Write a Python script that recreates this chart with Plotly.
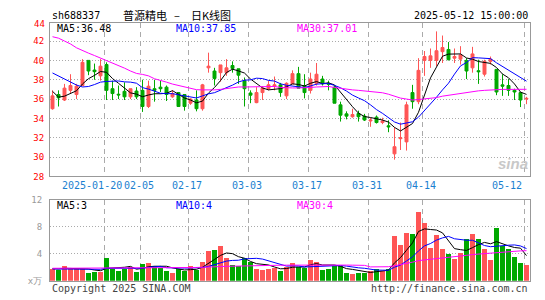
import plotly.graph_objects as go

# ---------------- data ----------------
dates = [
    "2025-01-07", "2025-01-08", "2025-01-09", "2025-01-10", "2025-01-13", "2025-01-14", "2025-01-15", "2025-01-16",
    "2025-01-17", "2025-01-20", "2025-01-21", "2025-01-22", "2025-01-23", "2025-01-24", "2025-01-27", "2025-02-05",
    "2025-02-06", "2025-02-07", "2025-02-10", "2025-02-11", "2025-02-12", "2025-02-13", "2025-02-14", "2025-02-17",
    "2025-02-18", "2025-02-19", "2025-02-20", "2025-02-21", "2025-02-24", "2025-02-25", "2025-02-26", "2025-02-27",
    "2025-02-28", "2025-03-03", "2025-03-04", "2025-03-05", "2025-03-06", "2025-03-07", "2025-03-10", "2025-03-11",
    "2025-03-12", "2025-03-13", "2025-03-14", "2025-03-17", "2025-03-18", "2025-03-19", "2025-03-20", "2025-03-21",
    "2025-03-24", "2025-03-25", "2025-03-26", "2025-03-27", "2025-03-28", "2025-03-31", "2025-04-01", "2025-04-02",
    "2025-04-03", "2025-04-07", "2025-04-08", "2025-04-09", "2025-04-10", "2025-04-11", "2025-04-14", "2025-04-15",
    "2025-04-16", "2025-04-17", "2025-04-18", "2025-04-21", "2025-04-22", "2025-04-23", "2025-04-24", "2025-04-25",
    "2025-04-28", "2025-04-29", "2025-04-30", "2025-05-06", "2025-05-07", "2025-05-08", "2025-05-09", "2025-05-12",
]

open_ = [35.00, 36.47, 35.90, 36.90, 36.47, 37.40, 40.00, 39.00, 38.40, 39.57,
         37.07, 36.50, 36.80, 36.23, 36.83, 36.90, 35.23, 37.07, 37.23, 37.23,
         36.23, 36.67, 36.47, 35.57, 35.90, 35.00, 39.23, 38.90, 38.73, 38.73,
         39.47, 39.13, 37.90, 36.63, 35.63, 36.67, 37.07, 37.33, 37.47, 36.33,
         37.57, 38.63, 37.40, 36.90, 37.63, 38.07, 37.63, 37.23, 35.40, 34.47,
         34.17, 34.50, 34.23, 33.73, 34.13, 33.57, 33.23, 30.33, 31.90, 31.57,
         36.67, 35.73, 40.00, 40.00, 40.00, 40.90, 41.13, 40.23, 40.13, 40.00,
         39.23, 38.93, 38.57, 39.90, 39.07, 37.47, 37.40, 36.90, 36.67, 36.00]
high = [36.90, 36.90, 37.57, 38.57, 37.57, 40.13, 40.00, 39.67, 40.13, 39.80,
        37.90, 37.40, 37.73, 37.07, 37.23, 38.00, 37.90, 38.00, 37.90, 37.40,
        36.90, 36.73, 36.47, 36.07, 36.90, 37.57, 40.80, 39.23, 39.53, 40.13,
        39.90, 39.13, 38.23, 36.90, 37.23, 37.33, 37.90, 38.33, 37.67, 37.73,
        38.97, 39.33, 38.57, 38.73, 39.73, 38.40, 37.90, 37.40, 35.73, 34.73,
        35.00, 34.80, 34.47, 34.07, 34.30, 34.07, 33.80, 33.07, 33.57, 35.73,
        37.47, 40.23, 40.97, 41.23, 43.00, 42.57, 41.90, 41.23, 41.47, 40.23,
        41.40, 40.07, 40.07, 40.40, 39.07, 38.57, 38.07, 37.07, 36.73, 36.23]
low = [34.90, 35.23, 35.80, 36.57, 36.00, 37.33, 38.47, 38.00, 37.90, 35.90,
       35.90, 36.00, 35.90, 36.00, 36.00, 34.67, 35.07, 35.73, 36.73, 35.80,
       36.13, 35.23, 34.80, 35.40, 34.73, 34.80, 38.73, 37.40, 37.80, 38.40,
       38.73, 37.57, 35.23, 35.57, 35.57, 35.90, 36.90, 36.90, 36.23, 36.00,
       37.57, 37.13, 36.07, 36.57, 37.40, 37.40, 36.90, 35.57, 33.67, 33.90,
       34.07, 33.67, 33.73, 33.13, 33.47, 33.40, 32.57, 29.73, 30.73, 30.67,
       35.00, 35.47, 38.40, 39.23, 39.40, 39.73, 40.00, 39.73, 39.57, 38.07,
       38.73, 37.57, 38.33, 39.57, 36.40, 36.33, 36.33, 35.90, 35.17, 35.47]
close = [36.33, 36.13, 37.13, 37.40, 37.33, 39.80, 38.90, 38.83, 39.40, 36.90,
         36.57, 36.43, 36.23, 37.07, 36.23, 35.23, 37.33, 36.90, 37.07, 36.47,
         36.57, 35.23, 35.23, 36.00, 35.00, 37.47, 39.40, 38.13, 39.53, 39.23,
         39.17, 38.47, 37.07, 36.40, 36.67, 37.13, 37.47, 37.47, 36.67, 37.63,
         38.63, 37.13, 36.67, 38.07, 38.57, 37.57, 37.53, 35.57, 34.33, 34.23,
         34.40, 34.17, 33.83, 33.83, 33.57, 33.73, 33.13, 31.07, 32.00, 35.40,
         35.73, 38.97, 40.40, 40.47, 41.00, 41.33, 40.07, 40.40, 40.57, 38.90,
         40.67, 38.83, 39.90, 40.13, 36.73, 37.33, 36.90, 36.73, 35.90, 36.07]

ma5 = [36.80, 36.20, 36.30, 36.60, 36.86, 37.56, 38.11, 38.45, 38.85, 38.77,
       38.12, 37.63, 37.11, 36.64, 36.51, 36.24, 36.42, 36.55, 36.55, 36.60,
       36.87, 36.45, 36.11, 35.90, 35.61, 35.79, 36.62, 37.20, 37.91, 38.75,
       39.09, 38.91, 38.69, 38.07, 37.56, 37.15, 36.95, 37.03, 37.08, 37.27,
       37.57, 37.51, 37.35, 37.63, 37.81, 37.60, 37.68, 37.46, 36.71, 35.85,
       35.21, 34.54, 34.19, 34.09, 33.96, 33.83, 33.62, 33.07, 32.70, 33.07,
       33.47, 34.63, 36.50, 38.19, 39.31, 40.43, 40.65, 40.65, 40.67, 40.25,
       40.12, 39.88, 39.78, 39.69, 39.26, 38.59, 38.20, 37.56, 36.72, 36.48]
ma10 = [38.70, 38.40, 38.10, 37.80, 37.45, 37.25, 37.30, 37.50, 37.75, 37.82,
        37.84, 37.87, 37.78, 37.75, 37.64, 37.18, 37.03, 36.83, 36.60, 36.56,
        36.56, 36.44, 36.33, 36.23, 36.11, 36.33, 36.54, 36.66, 36.91, 37.18,
        37.44, 37.77, 37.95, 37.99, 38.16, 38.12, 37.93, 37.86, 37.58, 37.42,
        37.36, 37.23, 37.19, 37.36, 37.54, 37.59, 37.60, 37.41, 37.17, 36.83,
        36.41, 36.11, 35.83, 35.40, 34.91, 34.52, 34.08, 33.63, 33.40, 33.52,
        33.65, 34.13, 34.79, 35.45, 36.19, 36.95, 37.64, 38.58, 39.43, 39.78,
        40.28, 40.26, 40.21, 40.18, 39.75, 39.36, 39.04, 38.67, 38.20, 37.85]
ma30 = [42.45, 42.30, 42.00, 41.70, 41.30, 41.00, 40.75, 40.50, 40.25, 40.00,
        39.75, 39.50, 39.20, 38.90, 38.65, 38.55, 38.40, 38.10, 37.95, 37.75,
        37.55, 37.40, 37.25, 37.10, 36.97, 36.95, 36.92, 36.95, 37.00, 37.10,
        37.20, 37.25, 37.25, 37.25, 37.25, 37.25, 37.30, 37.30, 37.20, 37.15,
        37.15, 37.15, 37.15, 37.20, 37.25, 37.30, 37.30, 37.20, 37.10, 37.00,
        36.95, 36.90, 36.85, 36.80, 36.70, 36.65, 36.50, 36.30, 36.10, 36.00,
        35.90, 35.95, 36.00, 36.05, 36.15, 36.30, 36.40, 36.50, 36.60, 36.70,
        36.80, 36.85, 36.90, 36.95, 36.95, 37.00, 37.00, 37.00, 37.00, 37.01]

volume = [1.86, 1.62, 2.19, 1.86, 1.76, 1.76, 1.19, 1.38, 1.38, 3.48,
          1.86, 1.52, 1.76, 2.05, 1.38, 2.48, 2.67, 2.19, 1.95, 1.48,
          1.24, 1.86, 1.48, 2.19, 1.71, 2.81, 4.43, 4.62, 5.19, 3.48,
          2.33, 2.19, 3.48, 2.81, 1.86, 1.71, 1.86, 1.95, 1.48, 2.05,
          2.67, 2.05, 1.95, 3.14, 2.90, 1.62, 1.81, 2.19, 2.19, 1.19,
          1.00, 1.24, 1.24, 1.48, 1.81, 1.48, 1.81, 6.67, 5.38, 7.19,
          6.95, 10.19, 8.62, 4.95, 6.81, 4.81, 3.95, 3.24, 4.19, 6.19,
          6.95, 6.19, 4.81, 3.19, 7.81, 5.19, 4.81, 3.62, 2.67, 2.33]
vol_ma5 = [1.80, 1.75, 1.85, 1.85, 1.86, 1.84, 1.75, 1.59, 1.49, 1.84,
           1.86, 1.92, 2.00, 2.13, 1.71, 1.84, 2.07, 2.15, 2.13, 2.15,
           1.91, 1.74, 1.60, 1.65, 1.70, 2.01, 2.52, 3.15, 3.75, 4.11,
           4.01, 3.56, 3.33, 2.86, 2.53, 2.41, 2.34, 2.04, 1.77, 1.81,
           2.00, 2.04, 2.04, 2.37, 2.54, 2.33, 2.28, 2.33, 2.14, 1.80,
           1.68, 1.56, 1.37, 1.23, 1.35, 1.45, 1.56, 2.65, 3.43, 4.51,
           5.60, 7.28, 7.67, 7.58, 7.50, 7.08, 5.83, 4.75, 4.60, 4.48,
           4.90, 5.35, 5.67, 5.47, 5.79, 5.44, 5.16, 4.92, 4.82, 3.72]
vol_ma10 = [1.75, 1.75, 1.80, 1.80, 1.80, 1.80, 1.75, 1.70, 1.70, 1.85,
            1.85, 1.84, 1.80, 1.81, 1.78, 1.85, 2.00, 2.08, 2.13, 1.93,
            1.88, 1.91, 1.88, 1.89, 1.93, 1.96, 2.13, 2.38, 2.70, 2.91,
            3.01, 3.04, 3.24, 3.31, 3.32, 3.21, 2.95, 2.69, 2.32, 2.17,
            2.21, 2.19, 2.04, 2.07, 2.18, 2.17, 2.16, 2.19, 2.26, 2.17,
            2.01, 1.92, 1.85, 1.69, 1.58, 1.57, 1.56, 2.01, 2.33, 2.93,
            3.53, 4.42, 5.16, 5.51, 6.01, 6.34, 6.56, 6.21, 6.09, 5.99,
            5.99, 5.59, 5.21, 5.04, 5.14, 5.17, 5.26, 5.30, 5.15, 4.76]
vol_ma30 = [1.85, 1.85, 1.85, 1.85, 1.86, 1.86, 1.86, 1.87, 1.87, 1.88,
            1.88, 1.89, 1.89, 1.90, 1.90, 1.91, 1.92, 1.93, 1.93, 1.94,
            1.94, 1.95, 1.95, 1.96, 1.97, 1.98, 2.02, 2.06, 2.10, 2.14,
            2.17, 2.20, 2.23, 2.25, 2.27, 2.28, 2.29, 2.30, 2.30, 2.31,
            2.32, 2.32, 2.33, 2.33, 2.33, 2.33, 2.33, 2.32, 2.32, 2.32,
            2.31, 2.30, 2.28, 2.05, 2.05, 2.06, 2.08, 2.22, 2.36, 2.55,
            2.75, 2.98, 3.12, 3.18, 3.28, 3.36, 3.42, 3.50, 3.62, 3.76,
            3.88, 3.96, 4.04, 4.10, 4.20, 4.28, 4.34, 4.40, 4.42, 4.45]

tick_dates = ["2025-01-20", "2025-02-05", "2025-02-17", "2025-03-03",
              "2025-03-17", "2025-03-31", "2025-04-14", "2025-05-12"]
tick_text = ["2025-01-20", "02-05", "02-17", "03-03", "03-17", "03-31", "04-14", "05-12"]

price_ticks = [28, 30, 32, 34, 36, 38, 40, 42]
vol_ticks = [0, 4, 8, 12]
vol_tick_text = ["x万", "4", "8", "12"]

code = "sh688337"
name_title = "普源精电"
chart_kind = "日K线图"
timestamp = "2025-05-12 15:00:00"

# ---------------- styling ----------------
W, H = 545, 300
RED = "#ff5555"
GREEN = "#00a800"
MONO = "DejaVu Sans Mono"
X0, X1 = 50, 530           # plot left/right px
MAIN_T, MAIN_B = 19, 177.3  # main panel top/bottom px
VOL_T, VOL_B = 201.3, 285.3
OFF = 2.5 / 6               # candle centre offset inside slot


def py(px):
    return (H - px) / H


idx = list(range(len(dates)))
grid_x = [dates.index(d) - OFF for d in tick_dates]
xr = [-OFF, len(dates) - OFF]

fig = go.Figure()

fig.add_trace(go.Candlestick(
    x=idx, open=open_, high=high, low=low, close=close,
    increasing=dict(line=dict(color=RED, width=1), fillcolor=RED),
    decreasing=dict(line=dict(color=GREEN, width=1), fillcolor=GREEN),
    whiskerwidth=0, xaxis="x", yaxis="y", hoverinfo="skip",
))
for vals, col in ((ma5, "#000000"), (ma10, "#0000ff"), (ma30, "#ff00ff")):
    fig.add_trace(go.Scatter(x=idx, y=vals, mode="lines", line=dict(color=col, width=1),
                             xaxis="x", yaxis="y", hoverinfo="skip"))

bar_colors = [RED if c >= o else GREEN for o, c in zip(open_, close)]
fig.add_trace(go.Bar(x=idx, y=volume, marker=dict(color=bar_colors, line=dict(width=0)),
                     width=5 / 6, xaxis="x2", yaxis="y2", hoverinfo="skip"))
for vals, col in ((vol_ma5, "#000000"), (vol_ma10, "#0000ff"), (vol_ma30, "#ff00ff")):
    fig.add_trace(go.Scatter(x=idx, y=vals, mode="lines", line=dict(color=col, width=1),
                             xaxis="x2", yaxis="y2", hoverinfo="skip"))

xdom = [X0 / W, X1 / W]
common_x = dict(domain=xdom, range=xr, tickvals=grid_x, showticklabels=False, ticks="",
                showgrid=True, gridcolor="#aaaaaa", griddash="5px,4px", gridwidth=1,
                showline=True, linecolor="#999999", linewidth=1, mirror=True, zeroline=False,
                fixedrange=True)

annotations = []


def txt(x, y, s, color="#000000", size=10, xanchor="left", family=MONO, xref="paper"):
    annotations.append(dict(x=x if xref != "paper" else x / W, y=py(y), xref=xref, yref="paper",
                            text=s, showarrow=False, xanchor=xanchor, yanchor="middle",
                            font=dict(family=family, size=size, color=color)))


# header
txt(49.5, 10.5, code, size=10)
txt(120.5, 10.5, name_title, size=11, family="Noto Sans CJK SC")
txt(172, 10.5, "–", size=11, family="Noto Sans CJK SC")
txt(188.5, 10.5, chart_kind, size=11, family="Noto Sans CJK SC")
txt(529.5, 10.5, timestamp, size=10, xanchor="right")

# MA legends
txt(54.5, 24.5, f"MA5:{ma5[-1]:.2f}", "#000000")
txt(173.5, 24.5, f"MA10:{ma10[-1]:.2f}", "#0000ff")
txt(294.5, 24.5, f"MA30:{ma30[-1]:.2f}", "#ff00ff")
txt(54.5, 207, f"MA5:{int(vol_ma5[-1])}", "#000000")
txt(173.5, 207, f"MA10:{int(vol_ma10[-1])}", "#0000ff")
txt(294.5, 207, f"MA30:{int(vol_ma30[-1])}", "#ff00ff")

# top price label (sits on the border)
txt(46.5, 19.5, "44", "#ff0000", size=9, xanchor="right")

# date labels: centred on their grid line; first nudged left, last kept inside the panel
for k, (gx, t) in enumerate(zip(grid_x, tick_text)):
    last = k == len(tick_text) - 1
    shift = -1
    if k == 0:
        shift = -12
    if last:
        shift = 0
    annotations.append(dict(x=gx, y=py(187), xref="x", yref="paper", text=t, showarrow=False,
                            xanchor="right" if last else "center", yanchor="middle",
                            xshift=shift,
                            font=dict(family=MONO, size=10, color="#1a7fd0")))

# footer
txt(49.5, 293.5, "Copyright 2025 SINA.COM", "#444444", size=10)
txt(529.5, 293.5, "http://finance.sina.com.cn", "#444444", size=10, xanchor="right")

# watermark
txt(513, 164, "<b><i>sina</i></b>", "#c8c8c8", size=15, xanchor="center", family="Liberation Sans")

fig.update_layout(
    width=W, height=H, margin=dict(l=0, r=0, t=0, b=0),
    paper_bgcolor="#ffffff", plot_bgcolor="#ffffff", showlegend=False,
    hovermode=False, bargap=0,
    xaxis=dict(**common_x, rangeslider=dict(visible=False)),
    yaxis=dict(domain=[py(MAIN_B), py(MAIN_T)], range=[28, 28 + (MAIN_B - MAIN_T) / 10],
               tickvals=price_ticks, ticktext=[str(v) for v in price_ticks],
               tickfont=dict(family=MONO, size=9, color="#ff0000"), ticks="",
               ticklabelstandoff=3,
               showgrid=True, gridcolor="#aaaaaa", griddash="1px,2px", gridwidth=1,
               showline=True, linecolor="#999999", linewidth=1, mirror=True, zeroline=False,
               fixedrange=True),
    xaxis2=dict(**common_x, anchor="y2"),
    yaxis2=dict(domain=[py(VOL_B), py(VOL_T)], range=[0, 12], anchor="x2",
                tickvals=vol_ticks, ticktext=vol_tick_text,
                tickfont=dict(family=MONO, size=9, color="#999999"), ticks="",
                ticklabelstandoff=5,
                showgrid=True, gridcolor="#aaaaaa", griddash="1px,2px", gridwidth=1,
                showline=True, linecolor="#999999", linewidth=1, mirror=True, zeroline=False,
                fixedrange=True),
    annotations=annotations,
)

fig.write_html("out.html", config={"displayModeBar": False})
